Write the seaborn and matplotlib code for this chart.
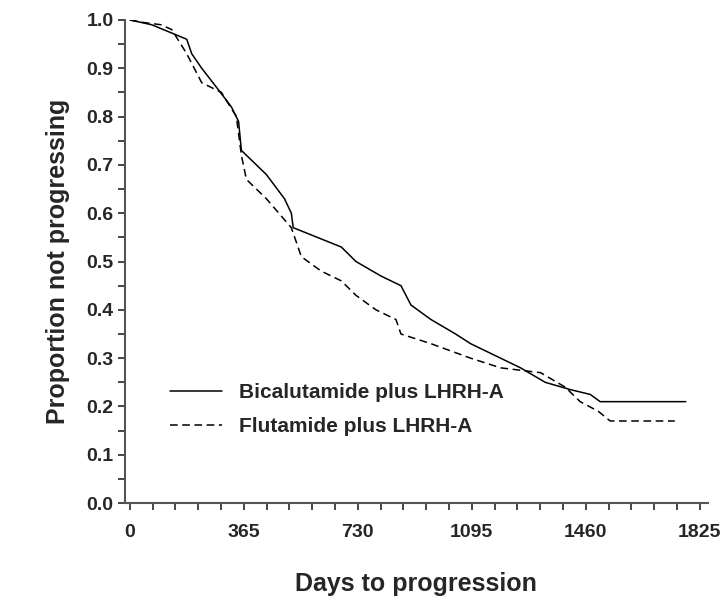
import numpy as np
import seaborn as sns
from matplotlib import pyplot as plt
from matplotlib.ticker import MultipleLocator

# Kaplan-Meier style curves (days, proportion)
bica_days = [0, 70, 182, 198, 230, 278, 325, 348, 357, 389, 437, 495, 517, 523, 581, 677, 724, 804,
             868, 900, 964, 1043, 1091, 1187, 1251, 1330, 1410, 1474, 1506, 1780]
bica_prop = [1.0, 0.99, 0.96, 0.93, 0.90, 0.86, 0.82, 0.79, 0.73, 0.71, 0.68, 0.63, 0.60, 0.57, 0.555,
             0.53, 0.50, 0.47, 0.45, 0.41, 0.38, 0.35, 0.33, 0.30, 0.28, 0.25, 0.235, 0.225, 0.21, 0.21]
flut_days = [0, 40, 100, 134, 182, 230, 293, 341, 357, 373, 437, 517, 549, 613, 677, 724, 788, 852,
             868, 964, 1091, 1187, 1315, 1394, 1442, 1500, 1538, 1745]
flut_prop = [1.0, 0.995, 0.99, 0.98, 0.93, 0.87, 0.85, 0.80, 0.72, 0.67, 0.63, 0.57, 0.51, 0.48, 0.46,
             0.43, 0.40, 0.38, 0.35, 0.33, 0.30, 0.28, 0.27, 0.24, 0.21, 0.19, 0.17, 0.17]
x_ticks = [0, 365, 730, 1095, 1460, 1825]

sns.set_style('ticks')
plt.rcParams['font.family'] = ['Liberation Sans', 'DejaVu Sans']

fig = plt.figure(figsize=(7.28, 6.04), dpi=100)
ax = fig.add_axes([0.172, 0.167, 0.80, 0.80])
sns.lineplot(x=bica_days, y=bica_prop, ax=ax, color='k', lw=1.1,
             label='Bicalutamide plus LHRH-A')
sns.lineplot(x=flut_days, y=flut_prop, ax=ax, color='k', lw=1.1, ls=(0, (5, 3)),
             label='Flutamide plus LHRH-A')

ax.set_xlim(-15, 1850)
ax.set_ylim(0, 1.0)
ax.set_xticks(x_ticks)
ax.xaxis.set_minor_locator(MultipleLocator(73))
ax.yaxis.set_major_locator(MultipleLocator(0.1))
ax.yaxis.set_minor_locator(MultipleLocator(0.05))
ax.yaxis.set_major_formatter(plt.FormatStrFormatter('%.1f'))
ax.tick_params(which='both', direction='out', length=5, width=1.2, labelsize=14)
ax.tick_params(axis='x', pad=10)
for t in ax.get_xticklabels() + ax.get_yticklabels():
    t.set_fontweight('bold')
for s in ['top', 'right']:
    ax.spines[s].set_visible(False)
for s in ['left', 'bottom']:
    ax.spines[s].set_linewidth(1.5)
    ax.spines[s].set_color('#555555')

ax.set_xlabel('Days to progression', fontsize=18, fontweight='bold', labelpad=22)
ax.set_ylabel('Proportion not progressing', fontsize=18, fontweight='bold', labelpad=12)
leg = ax.legend(loc='lower left', bbox_to_anchor=(0.045, 0.10), frameon=False, fontsize=15,
                handlelength=2.5, labelspacing=0.7)
for t in leg.get_texts():
    t.set_fontweight('bold')

fig.savefig('out.png', dpi=100)
